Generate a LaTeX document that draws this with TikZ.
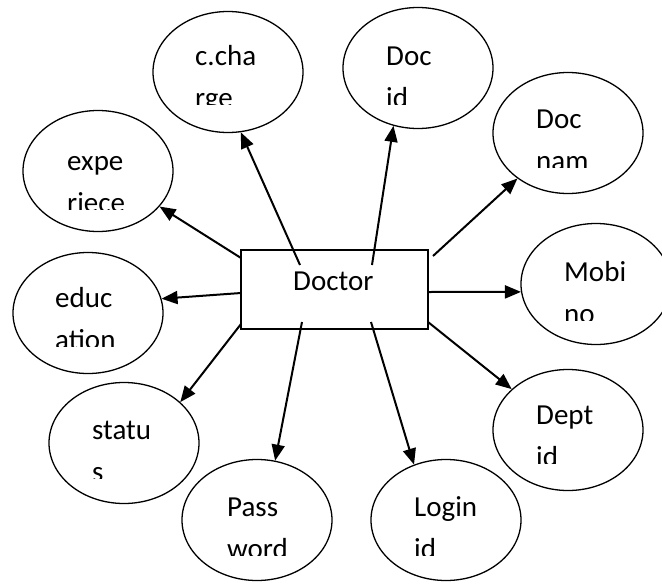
\documentclass[tikz,border=0pt]{standalone}
\usepackage{fontspec}
\setmainfont{Carlito}
\usetikzlibrary{arrows.meta,shapes.geometric}
\tikzset{
  attr/.style={draw, line width=1.3pt, ellipse, minimum width=150pt, minimum height=121pt, inner sep=0pt},
  ent/.style={draw, line width=1.3pt, rectangle, minimum width=187pt, minimum height=79pt, inner sep=0pt},
  lbl/.style={anchor=base west, inner sep=0pt, font=\fontsize{29}{31}\selectfont},
  arr/.style={line width=2pt, -{Triangle[length=16pt,width=13pt]}}
}
\newcommand{\twoline}[5]{%
  \begin{scope}
    \clip (#1-5,#2-40) rectangle (#1+130,#2+39.5);
    \node[lbl] (#5a) at (#1,#2) {#3};
    \node[lbl] (#5b) at (#1,#2+42) {#4};
  \end{scope}}
\begin{document}
\begin{tikzpicture}[x=1pt,y=-1pt]
\useasboundingbox[fill=white] (0,0) rectangle (662,584);
% entity
\node[ent] (doc) at (334.5,289.5) {};
\node[lbl] (doct) at (293,290) {Doctor};
% attributes
\node[attr] (cc) at (228,72) {};
\node[attr] (exp) at (98,171) {};
\node[attr] (edu) at (88,313) {};
\node[attr] (sta) at (124,443) {};
\node[attr] (pw) at (257,520) {};
\node[attr] (login) at (446,520) {};
\node[attr] (dept) at (568,430) {};
\node[attr] (mobi) at (596,284) {};
\node[attr] (dnam) at (568,133) {};
\node[attr] (did) at (418,68) {};
% labels
\twoline{195}{65}{c.cha}{rge}{tcc}
\twoline{67}{170}{expe}{riece}{texp}
\twoline{55}{307}{educ}{ation}{tedu}
\twoline{92}{439}{statu}{s}{tsta}
\twoline{227}{516}{Pass}{word}{tpw}
\twoline{414}{516}{Login}{id}{tlog}
\twoline{536}{424}{Dept}{id}{tdep}
\twoline{564}{281}{Mobi}{no}{tmob}
\twoline{536}{128}{Doc}{nam}{tdnam}
\twoline{386}{65}{Doc}{id}{tdid}
% start points
\coordinate (s1) at (300,265);
\coordinate (s2) at (241,258);
\coordinate (s3) at (241,293);
\coordinate (s4) at (241,324);
\coordinate (s5) at (302,322);
\coordinate (s6) at (371,322);
\coordinate (s7) at (428,322);
\coordinate (s8) at (428,292);
\coordinate (s9) at (433,256);
\coordinate (s10) at (372,265);
% connectors
\draw[arr] (s1) -- (cc.-78);
\draw[arr] (s2) -- (exp.-30);
\draw[arr] (s3) -- (edu.11);
\draw[arr] (s4) -- (sta.36);
\draw[arr] (s5) -- (pw.73);
\draw[arr] (s6) -- (login.120);
\draw[arr] (s7) -- (dept.144);
\draw[arr] (s8) -- (mobi.186);
\draw[arr] (s9) -- (dnam.222);
\draw[arr] (s10) -- (did.247);
\end{tikzpicture}
\end{document}
